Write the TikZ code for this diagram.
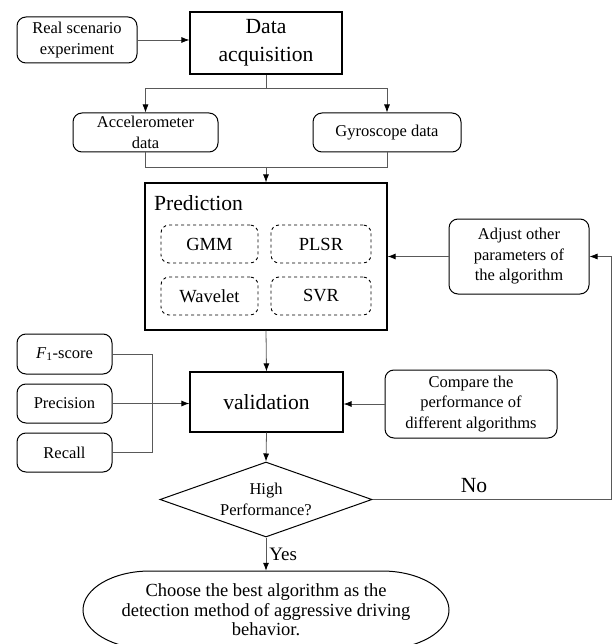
\documentclass[tikz,border=0pt]{standalone}
\usepackage{fontspec}
\setmainfont{Liberation Serif}
\usepackage{tikz}
\usetikzlibrary{arrows.meta,positioning,shapes.geometric,calc}
\usepackage{xcolor}
\tikzset{
  small/.style={font=\fontsize{16.5}{20.5}\selectfont},
  big/.style={font=\fontsize{21.6}{28}\selectfont},
  block/.style={draw, line width=1.2pt, align=center, inner sep=0pt, big},
  rbox/.style={draw, line width=1pt, rounded corners=9pt, align=center, inner sep=0pt, small},
  algo/.style={draw, dashed, line width=0.9pt, rounded corners=8pt, align=center, inner sep=0pt,
               font=\fontsize{18.5}{22}\selectfont},
  decision/.style={draw, diamond, aspect=2.83, line width=1pt, align=center, inner sep=0pt, small},
  line/.style={line width=0.8pt, black!65},
  arrow/.style={line, -{Latex[length=8pt,width=6pt,color=black]}},
}

\begin{document}
\begin{tikzpicture}[x=1pt, y=-1pt]
  \useasboundingbox (0,0) rectangle (613,644);

  % Acquisition
  \node[rbox, minimum width=120pt, minimum height=46pt] (real) at (77,40) {Real scenario\\experiment};
  \node[block, minimum width=152pt, minimum height=62pt] (acq) at (266,43) {Data\\acquisition};
  \node[rbox, minimum width=145pt, minimum height=39pt] (acc) at (145.5,132.5) {Accelerometer\\data};
  \node[rbox, minimum width=148pt, minimum height=39pt] (gyro) at (387,132.5) {Gyroscope data};

  \coordinate (split) at (266,88);
  \coordinate (merge) at (266,167);
  \draw[arrow] (real.east) -- (real.east -| acq.west);
  \draw[line] (acq.south) -- (split);
  \draw[arrow] (split) -| (acc.north);
  \draw[arrow] (split) -| (gyro.north);
  \draw[line] (acc.south) |- (merge);
  \draw[line] (gyro.south) |- (merge);

  % Prediction
  \node[block, minimum width=242pt, minimum height=147pt] (pred) at (266,256.5) {};
  \node[big, anchor=west, inner sep=0pt] (predlbl) at (154,203) {Prediction};
  \node[algo, minimum width=97pt, minimum height=38pt] (gmm) at (209.5,244) {GMM};
  \node[algo, minimum width=100pt, minimum height=38pt] (plsr) at (321,244) {PLSR};
  \node[algo, minimum width=97pt, minimum height=38pt] (wav) at (209.5,296) {Wavelet};
  \node[algo, minimum width=100pt, minimum height=38pt] (svr) at (321,296) {SVR};
  \draw[arrow] (merge) -- (pred.north);

  \node[rbox, minimum width=140pt, minimum height=75pt] (adjust) at (519,256.5)
    {Adjust other\\parameters of\\the algorithm};
  \draw[arrow] (adjust.west) -- (pred.east);

  % Validation
  \node[block, minimum width=153pt, minimum height=60pt] (val) at (266.5,402) {validation};
  \node[rbox, minimum width=95pt, minimum height=40pt] (f1) at (64.5,354) {\textit{F}\textsubscript{1}-score};
  \node[rbox, minimum width=95pt, minimum height=39pt] (prec) at (64.5,403.5) {Precision};
  \node[rbox, minimum width=95pt, minimum height=39pt] (rec) at (64.5,452.5) {Recall};
  \node[rbox, minimum width=172pt, minimum height=68pt] (cmp) at (471,404)
    {Compare the\\performance of\\different algorithms};

  \coordinate (bus) at (152,0);
  \draw[arrow] (pred.south) -- (val.north);
  \draw[line] (f1.east) -- (f1.east -| bus) -- (rec.east -| bus) -- (rec.east);
  \draw[arrow] (prec.east) -- (prec.east -| val.west);
  \draw[arrow] (cmp.west) -- (cmp.west -| val.east);

  % Decision
  \node[decision, minimum width=212pt, minimum height=75pt] (dec) at (266,499.5) {High\\Performance?};
  \draw[arrow] (val.south) -- (dec.north);

  \coordinate (loop) at (611,0);
  \draw[arrow] (dec.east) -- (dec.east -| loop) -- (adjust.east -| loop) -- (adjust.east);
  \node[big, inner sep=0pt] (no) at (474,486) {No};

  % Result
  \node[inner sep=0pt, minimum height=78pt, align=center,
        font=\fontsize{18.5}{19.5}\selectfont] (best) at (266,610)
    {Choose the best algorithm as the\\detection method of aggressive driving\\behavior.};
  \draw[line width=1pt] ($(best.center)+(-116,-39)$) -- ++(232,0)
    arc[start angle=90, end angle=-90, x radius=67pt, y radius=39pt]
    -- ++(-232,0)
    arc[start angle=270, end angle=90, x radius=67pt, y radius=39pt] -- cycle;
  \draw[arrow] (dec.south) -- node[right, inner sep=3pt, text=black, font=\fontsize{19}{22}\selectfont] (yes) {Yes} (best.north);
\end{tikzpicture}
\end{document}
